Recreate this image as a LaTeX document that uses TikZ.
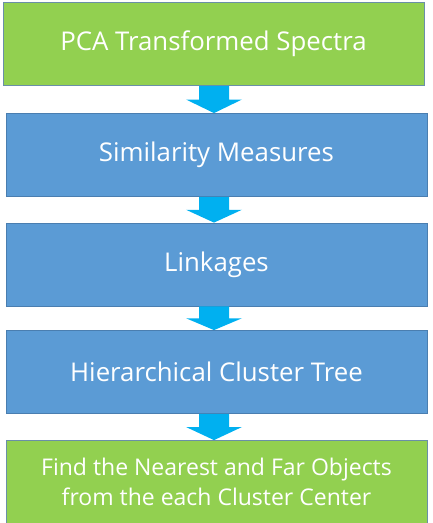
\documentclass[tikz,border=0pt]{standalone}
\usepackage{fontspec}
\setmainfont{Open Sans}
\usetikzlibrary{calc}
\definecolor{boxgreen}{HTML}{92D050}
\definecolor{boxblue}{HTML}{5B9BD5}
\definecolor{arrowblue}{HTML}{00B0F0}
\definecolor{edgeblue}{HTML}{4A7EB0}
\definecolor{edgegreen}{HTML}{6A8FA8}
\begin{document}
\begin{tikzpicture}[x=1pt,y=-1pt,
  stage/.style={draw=edgeblue,line width=0.8pt,fill=boxblue,text=white,minimum width=421pt,minimum height=83pt,inner sep=0pt,align=center,font=\fontsize{25.8}{30}\selectfont},
  gstage/.style={stage,fill=boxgreen,draw=edgegreen},
  flowarrow/.style={fill=arrowblue,draw=none}]
\useasboundingbox (0,0) rectangle (433,523);
\node[gstage] (b1) at (213.5,44) {PCA Transformed Spectra};
\node[stage] (b2) at (216.5,155) {Similarity Measures};
\node[stage] (b3) at (216.5,264.5) {Linkages};
\node[stage] (b4) at (216.5,372) {Hierarchical Cluster Tree};
\node[gstage,font=\fontsize{23}{30}\selectfont] (b5) at (216.5,482) {Find the Nearest and Far Objects\\from the each Cluster Center};
\foreach \a/\b in {b1/b2,b2/b3,b3/b4,b4/b5}{
  \path let \p1=(\a.south), \p2=(\b.north) in
    [flowarrow] (214-15,\y1) -- (214+15,\y1) -- (214+15,{\y1+0.5*(\y2-\y1)}) -- (214+28,{\y1+0.5*(\y2-\y1)}) -- (214,\y2) -- (214-28,{\y1+0.5*(\y2-\y1)}) -- (214-15,{\y1+0.5*(\y2-\y1)}) -- cycle;
}
\end{tikzpicture}
\end{document}
